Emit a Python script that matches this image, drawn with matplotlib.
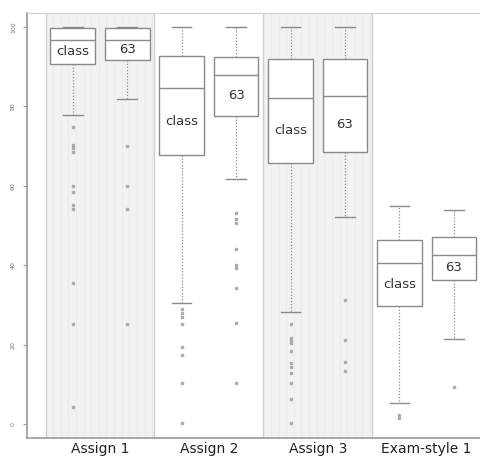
#!/usr/bin/env python3

import numpy as np
import matplotlib
matplotlib.use("Agg")
import matplotlib.pyplot as plt

# groups along the x axis
groups = ["Assign 1", "Assign 2", "Assign 3", "Exam-style 1"]
box_names = ["class", "63"]

# five-number summaries: whislo, q1, median, q3, whishi
class_stats = [
    [77.8, 90.7, 96.7, 99.7, 100.0],
    [30.5, 67.8, 84.6, 92.7, 100.0],
    [28.2, 65.7, 82.1, 91.9, 100.0],
    [5.3, 29.7, 40.6, 46.3, 54.9],
]
class_fliers = [
    [74.8, 70.3, 69.5, 68.5, 60.0, 58.4, 55.2, 54.2, 35.5, 25.2, 4.3],
    [29.0, 28.0, 27.0, 25.2, 19.4, 17.4, 10.3, 0.3],
    [25.2, 21.7, 20.9, 20.4, 18.4, 15.4, 14.4, 12.8, 10.3, 6.3, 0.3],
    [2.3, 1.5],
]

s63_stats = [
    [81.9, 91.7, 96.7, 99.7, 100.0],
    [61.7, 77.6, 87.9, 92.4, 100.0],
    [52.1, 68.5, 82.6, 91.9, 100.0],
    [21.4, 36.3, 42.6, 47.1, 53.9],
]
s63_fliers = [
    [70.0, 60.0, 54.2, 25.2],
    [53.1, 51.6, 50.6, 44.0, 40.0, 39.3, 34.3, 25.4, 10.3],
    [31.2, 21.2, 15.6, 13.4],
    [9.3],
]

yticks = [0, 20, 40, 60, 80, 100]


def make_stats(stats, fliers):
    out = []
    for s, f in zip(stats, fliers):
        out.append(dict(whislo=s[0], q1=s[1], med=s[2], q3=s[3],
                        whishi=s[4], fliers=f))
    return out


fig = plt.figure(figsize=(4.8, 4.57), dpi=100)
ax = fig.add_axes([27 / 480, 19 / 457, 1 - 27 / 480, 425 / 457])

pos = np.arange(1, len(groups) + 1)
off = 0.25

# shaded bands behind alternate groups
for i in range(0, len(groups), 2):
    x0, x1 = pos[i] - 0.5, pos[i] + 0.5
    ax.axvspan(x0, x1, color="#f2f2f2", zorder=0, lw=0)
    for xv in np.arange(x0 + 0.07, x1, 0.07):
        ax.axvline(xv, color="#e9e9e9", lw=0.5, zorder=0.5)
    ax.axvline(x0, color="#cfcfcf", lw=1, zorder=0.6)
    ax.axvline(x1, color="#cfcfcf", lw=1, zorder=0.6)

gray = "#8a8a8a"
common = dict(
    widths=0.41,
    capwidths=0.18,
    patch_artist=True,
    boxprops=dict(facecolor="white", edgecolor=gray, lw=1),
    medianprops=dict(color=gray, lw=1),
    whiskerprops=dict(color=gray, lw=0.9, linestyle=(0, (1, 1.5))),
    capprops=dict(color=gray, lw=1),
    flierprops=dict(marker="s", markersize=2.0, markerfacecolor="#ababab",
                    markeredgecolor="#ababab"),
)

ax.bxp(make_stats(class_stats, class_fliers), positions=pos - off, **common)
ax.bxp(make_stats(s63_stats, s63_fliers), positions=pos + off, **common)

# labels inside the boxes
for i in range(len(groups)):
    for name, stats, dx in ((box_names[0], class_stats, -off),
                            (box_names[1], s63_stats, off)):
        ylab = (stats[i][1] + stats[i][2]) / 2
        ax.text(pos[i] + dx, ylab, name, ha="center", va="center",
                fontsize=9.5, color="#333333", zorder=5)

ax.set_xlim(0.33, 4.49)
ax.set_ylim(-3.5, 103.5)
ax.set_xticks(pos)
ax.set_xticklabels(groups, fontsize=10, color="#222222")
ax.tick_params(axis="x", length=0, pad=3)
ax.set_yticks(yticks)
ax.set_yticklabels([str(v) for v in yticks], rotation=90, fontsize=4.5,
                   color="#777777", va="center")
ax.tick_params(axis="y", length=3, color="#999999", pad=5)

for side in ("left", "bottom"):
    ax.spines[side].set_color("#999999")
    ax.spines[side].set_linewidth(1.2)
ax.spines["top"].set_color("#d0d0d0")
ax.spines["right"].set_visible(False)

fig.savefig("out.png", dpi=100)
print("Saved plot to out.png")
